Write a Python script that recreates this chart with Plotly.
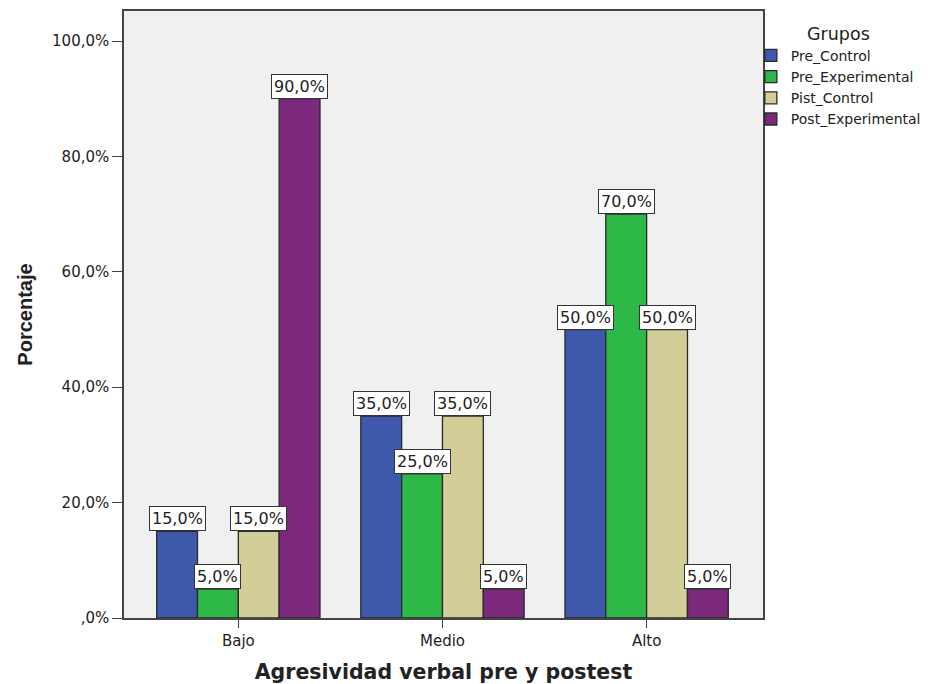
import plotly.graph_objects as go

# Levels of verbal aggression and the share of each group in every level
categories = ["Bajo", "Medio", "Alto"]
groups = ["Pre_Control", "Pre_Experimental", "Pist_Control", "Post_Experimental"]
pre_control = [15.0, 35.0, 50.0]
pre_experimental = [5.0, 25.0, 70.0]
pist_control = [15.0, 35.0, 50.0]
post_experimental = [90.0, 5.0, 5.0]
series = [pre_control, pre_experimental, pist_control, post_experimental]
colors = ["#3E58AC", "#2EB848", "#D3CE97", "#7C287D"]

y_ticks = [0, 20, 40, 60, 80, 100]
y_tick_text = [",0%", "20,0%", "40,0%", "60,0%", "80,0%", "100,0%"]

FONT = "DejaVu Sans"
TEXT = "#222222"

fig = go.Figure()
for name, vals, col in zip(groups, series, colors):
    fig.add_trace(go.Bar(
        name=name, x=categories, y=vals,
        marker=dict(color=col, line=dict(color="#2a2a2a", width=1.3)),
    ))

def pct(v):
    return f"{v:.1f}".replace(".", ",") + "%"

# boxed value labels sitting on top of each bar
n = len(groups)
bar_w = 0.8 / n
for j, vals in enumerate(series):
    for i, v in enumerate(vals):
        fig.add_annotation(
            x=i + (j - (n - 1) / 2) * bar_w, y=v, xref="x", yref="y",
            text=pct(v), showarrow=False, yanchor="bottom", xanchor="center",
            font=dict(family=FONT, size=16, color=TEXT),
            bgcolor="white", bordercolor="#333333", borderwidth=1, borderpad=2,
        )

fig.update_layout(
    width=937, height=684,
    margin=dict(l=124, r=172, t=11, b=66),
    paper_bgcolor="white", plot_bgcolor="#F0F0F0",
    barmode="group", bargap=0.2, bargroupgap=0,
    font=dict(family=FONT, color=TEXT),
    legend=dict(
        title=dict(text="Grupos", side="top center",
                   font=dict(family=FONT, size=17.5, color=TEXT)),
        x=0.981, xanchor="left", y=0.99, yanchor="top",
        font=dict(family=FONT, size=14, color=TEXT),
        itemwidth=30, tracegroupgap=0, bgcolor="rgba(0,0,0,0)",
    ),
    xaxis=dict(
        range=[-0.56, 2.57], showgrid=False, automargin=False,
        showline=True, linecolor="#444444", linewidth=1.5, mirror=True,
        ticks="outside", ticklen=8, tickcolor="#444444",
        tickfont=dict(family=FONT, size=15, color=TEXT),
        title=dict(text="<b>Agresividad verbal pre y postest</b>",
                   font=dict(family=FONT, size=20.5, color=TEXT), standoff=16),
    ),
    yaxis=dict(
        range=[0, 105.2], tickvals=y_ticks, ticktext=y_tick_text,
        showgrid=False, zeroline=False, automargin=False,
        showline=True, linecolor="#444444", linewidth=1.5, mirror=True,
        ticks="outside", ticklen=10, tickcolor="#444444",
        tickfont=dict(family=FONT, size=15, color=TEXT),
        title=dict(text="<b>Porcentaje</b>",
                   font=dict(family="Liberation Sans", size=20, color=TEXT), standoff=14),
    ),
)

fig.write_html("out.html")
